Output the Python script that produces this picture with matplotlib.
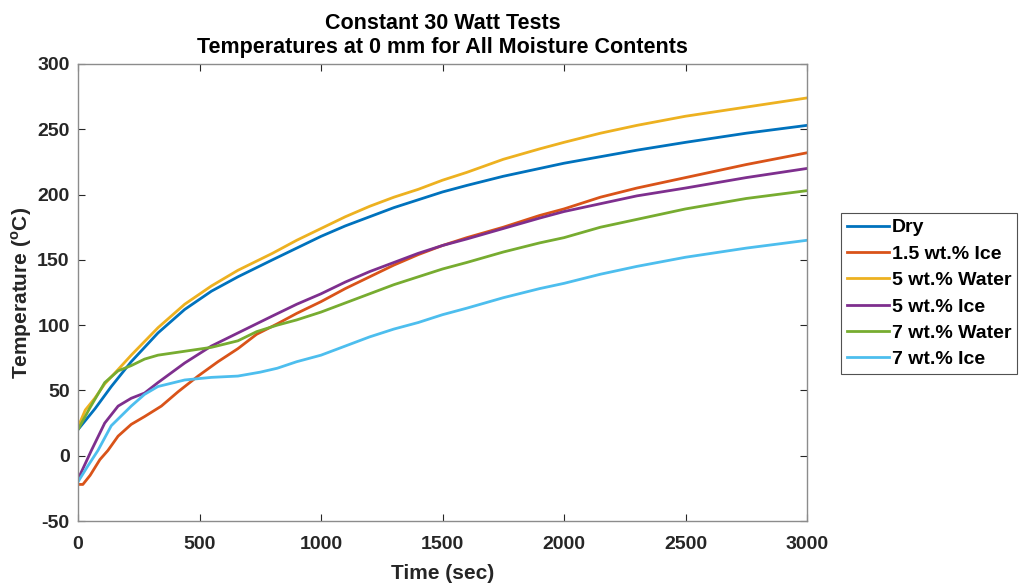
import numpy as np
import matplotlib.pyplot as plt

plt.rcParams["font.family"] = ["Liberation Sans", "DejaVu Sans"]
plt.rcParams["font.weight"] = "bold"

# time (sec) and temperature (C) at 0 mm for each moisture content
t_dry = [0, 70, 137, 219, 329, 439, 549, 658, 800, 900, 1000, 1100, 1200, 1300, 1400, 1500, 1600,
         1750, 1900, 2000, 2150, 2300, 2500, 2750, 3000]
T_dry = [20, 36, 53, 72, 94, 112, 126, 137, 150, 159, 168, 176, 183, 190, 196, 202, 207,
         214, 220, 224, 229, 234, 240, 247, 253]

t_ice15 = [0, 20, 50, 90, 123, 165, 219, 274, 343, 412, 494, 576, 658, 735, 820, 900, 1000, 1100,
           1200, 1300, 1400, 1500, 1600, 1750, 1900, 2000, 2150, 2300, 2500, 2750, 3000]
T_ice15 = [-22, -22, -15, -3, 4, 15, 24, 30, 38, 49, 61, 72, 82, 93, 101, 109, 118, 128,
           137, 146, 154, 161, 167, 175, 184, 189, 198, 205, 213, 223, 232]

t_w5 = [0, 30, 69, 110, 165, 219, 329, 439, 549, 658, 800, 900, 1000, 1100, 1200, 1300, 1400, 1500,
        1600, 1750, 1900, 2000, 2150, 2300, 2500, 2750, 3000]
T_w5 = [22, 35, 44, 55, 66, 77, 98, 116, 130, 142, 155, 165, 174, 183, 191, 198, 204, 211,
        217, 227, 235, 240, 247, 253, 260, 267, 274]

t_ice5 = [0, 25, 55, 110, 165, 219, 274, 329, 439, 549, 658, 800, 900, 1000, 1100, 1200, 1300, 1400,
          1500, 1600, 1750, 1900, 2000, 2150, 2300, 2500, 2750, 3000]
T_ice5 = [-18, -8, 4, 25, 38, 44, 48, 56, 71, 84, 94, 107, 116, 124, 133, 141, 148, 155,
          161, 166, 174, 182, 187, 193, 199, 205, 213, 220]

t_w7 = [0, 50, 110, 165, 219, 274, 329, 439, 549, 658, 735, 820, 900, 1000, 1100, 1200, 1300, 1400,
        1500, 1600, 1750, 1900, 2000, 2150, 2300, 2500, 2750, 3000]
T_w7 = [20, 37, 56, 65, 69, 74, 77, 80, 83, 88, 95, 100, 104, 110, 117, 124, 131, 137,
        143, 148, 156, 163, 167, 175, 181, 189, 197, 203]

t_ice7 = [0, 40, 82, 137, 219, 274, 329, 439, 549, 658, 750, 820, 900, 1000, 1100, 1200, 1300, 1400,
          1500, 1600, 1750, 1900, 2000, 2150, 2300, 2500, 2750, 3000]
T_ice7 = [-20, -8, 4, 23, 38, 47, 53, 58, 60, 61, 64, 67, 72, 77, 84, 91, 97, 102,
          108, 113, 121, 128, 132, 139, 145, 152, 159, 165]

labels = ["Dry", "1.5 wt.% Ice", "5 wt.% Water", "5 wt.% Ice", "7 wt.% Water", "7 wt.% Ice"]
colors = ["#0072BD", "#D95319", "#EDB120", "#7E2F8E", "#77AC30", "#4DBEEE"]
series = [(t_dry, T_dry), (t_ice15, T_ice15), (t_w5, T_w5),
          (t_ice5, T_ice5), (t_w7, T_w7), (t_ice7, T_ice7)]

fig = plt.figure(figsize=(10.21, 5.87), dpi=100)
ax = fig.add_axes([78 / 1021, 1 - 521 / 587, 729 / 1021, 457 / 587])

for (t, T), lab, c in zip(series, labels, colors):
    ax.plot(t, T, color=c, lw=2, label=lab)

ax.set_xlim(0, 3000)
ax.set_ylim(-50, 300)
ax.set_xticks(np.arange(0, 3001, 500))
ax.set_yticks(np.arange(-50, 301, 50))
ax.set_yticklabels([str(v) for v in range(-50, 301, 50)])
ax.tick_params(direction="in", top=True, right=True, labelsize=14, color="#262626", length=5)
ax.tick_params(axis="x", pad=11)
ax.tick_params(axis="y", pad=6)
for s in ax.spines.values():
    s.set_color("#8c8c8c")
    s.set_linewidth(1.0)
for lbl in ax.get_xticklabels() + ax.get_yticklabels():
    lbl.set_fontweight("bold")
    lbl.set_color("#262626")

ax.set_xlabel("Time (sec)", fontsize=15, fontweight="bold", labelpad=8, color="#262626")
ax.set_ylabel("Temperature ($^\\mathregular{o}$C)", fontsize=15, fontweight="bold", labelpad=2,
              color="#262626")
ax.set_title("Constant 30 Watt Tests\nTemperatures at 0 mm for All Moisture Contents",
             fontsize=15.5, fontweight="bold", linespacing=1.2, pad=8, color="#000000")

leg = ax.legend(loc="upper left", bbox_to_anchor=(841 / 1021, 1 - 213 / 587), bbox_transform=fig.transFigure,
                fontsize=14, frameon=True, fancybox=False, handlelength=2.15,
                handletextpad=0.15, borderpad=0.3, borderaxespad=0, labelspacing=0.45)
leg.get_frame().set_edgecolor("#262626")
leg.get_frame().set_linewidth(0.8)
for txt in leg.get_texts():
    txt.set_fontweight("bold")

fig.savefig("out.png", dpi=100)
